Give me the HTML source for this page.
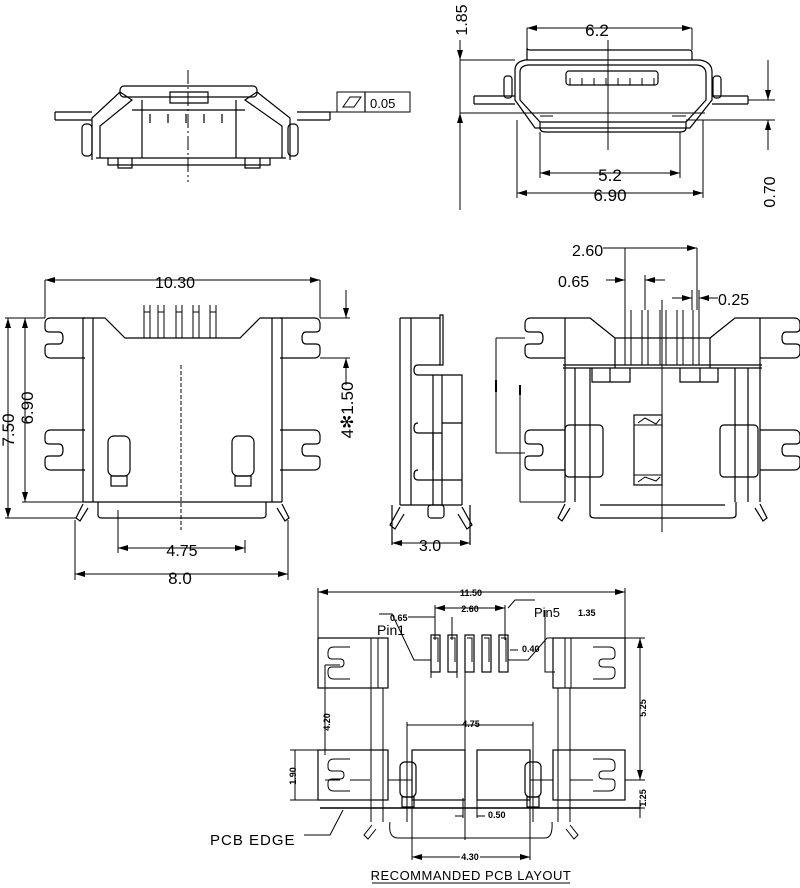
<!DOCTYPE html>
<html><head><meta charset="utf-8"><style>
html,body{margin:0;padding:0;background:#fff}
svg{display:block}
text{font-family:"Liberation Sans",sans-serif;fill:#000}
</style></head><body>
<svg width="800" height="888" viewBox="0 0 800 888" xmlns="http://www.w3.org/2000/svg">
<defs>
<path id="tab" d="M40 0 H6 Q0 0 0 6 V10 Q0 14 4 14 H14 Q18 14 18 20 Q18 26 14 26 H4 Q0 26 0 30 V34 Q0 40 6 40 H40" fill="none" stroke="#000" stroke-width="1.2"/>
<path id="notch" d="M22 0 H6 Q0 0 0 6 V8 Q0 12 4 12 H12 Q16 12 16 16 Q16 20 12 20 H4 Q0 20 0 24 V26 Q0 32 6 32 H22" fill="none" stroke="#000" stroke-width="1"/>
<marker id="ar" viewBox="0 0 10 6" refX="10" refY="3" markerWidth="10" markerHeight="6" orient="auto-start-reverse"><path d="M0 0 L10 3 L0 6z" fill="#000"/></marker>
</defs>
<g fill="none" stroke="#000" stroke-width="1.2">
<!-- ===== Top-left front view ===== -->
<rect x="120" y="86" width="137" height="11" rx="4"/>
<path d="M55 112 H92 M55 120 H92 M55 112 V120 M297 112 H330 M297 120 H330 M330 112 V120"/>
<path d="M92 160 V118 L120 92 L132 100 L100 126 V158 M290 160 V118 L257 92 L245 100 L282 126 V158"/>
<path d="M96 158 H286 M108 158 V165 H270 V158 M118 158 V168 H132 V158 M245 158 V168 H260 V158"/>
<rect x="82" y="124" width="10" height="32" rx="4"/><rect x="288" y="124" width="10" height="32" rx="4"/>
<path d="M132 110 H245 M142 100 V158 M236 100 V158 M170 92 H208 V103 H170Z"/>
<path d="M150 114 V123 M168 114 V123 M186 114 V123 M204 114 V123 M222 114 V123"/>
<path d="M188 70 V182" stroke-dasharray="14 3 2 3" stroke-width="1"/>
<path d="M297 112 H338" stroke-width="1"/>
<rect x="337" y="92" width="73" height="20" stroke-width="1"/><path d="M365 92 V112"/>
<path d="M343 107 L350 97 H361 L354 107Z" stroke-width="1"/>
<!-- ===== Top-right view ===== -->
<path d="M527 60 V48 Q527 50 530 50 H689 Q692 50 692 53 V60"/>
<path d="M515 100 V70 Q515 62 525 60 H700 Q712 62 712 72 V100 L690 128 H535Z"/>
<path d="M520 100 V72 Q520 66 528 65 H697 Q706 66 706 74 V100 L686 122 H540Z"/>
<path d="M540 122 V128 Q540 132 546 132 H680 Q686 132 686 128 V122"/>
<path d="M474 96 H515 M474 104 H515 M474 96 V104 M712 96 H748 M712 104 H748 M748 96 V104"/>
<rect x="504" y="76" width="8" height="22" rx="3"/><rect x="713" y="76" width="8" height="22" rx="3"/>
<rect x="566" y="71" width="92" height="14" rx="3"/>
<path d="M570 85 V78 M582 85 V78 M594 85 V78 M606 85 V78 M618 85 V78 M630 85 V78 M642 85 V78 M654 85 V78" stroke-width="1"/>
<path d="M608 40 V150" stroke-width="1"/>
<path d="M540 116 H553 M672 116 H686" stroke-width="1"/>
<path d="M527 28 H692" marker-start="url(#ar)" marker-end="url(#ar)" stroke-width="1"/>
<path d="M527 28 V50 M692 28 V50 M540 132 V178 M680 132 V178 M517 120 V198 M703 120 V198" stroke-width="1"/>
<path d="M540 173 H680" marker-start="url(#ar)" marker-end="url(#ar)" stroke-width="1"/>
<path d="M517 193 H703" marker-start="url(#ar)" marker-end="url(#ar)" stroke-width="1"/>
<path d="M460 60 V210 M460 60 H515 M460 113 H705" stroke-width="1"/>
<path d="M460 40 V60" marker-end="url(#ar)" stroke-width="1"/><path d="M460 140 V113" marker-end="url(#ar)" stroke-width="1"/>
<path d="M748 100 H775 M686 120 H775" stroke-width="1"/>
<path d="M768 60 V100" marker-end="url(#ar)" stroke-width="1"/><path d="M768 150 V120" marker-end="url(#ar)" stroke-width="1"/>
<!-- ===== Middle-left view ===== -->
<use href="#tab" x="45" y="318"/><use href="#tab" x="45" y="430"/>
<use href="#tab" transform="translate(320,318) scale(-1,1)"/><use href="#tab" transform="translate(320,430) scale(-1,1)"/>
<path d="M83 318 V502 M93 318 V502 M272 318 V502 M282 318 V502"/>
<path d="M83 318 H105 L125 338 H240 L260 318 H282"/>
<path d="M83 502 H282"/>
<path d="M98 502 V515 Q98 518 102 518 H262 Q266 518 266 515 V502"/>
<path d="M83 504 L76 518 L80 521 L88 508 M282 504 L289 518 L285 521 L277 508"/>
<path d="M144 305 V338 M150 305 V338 M144 312 H150 M158 305 V338 M164 305 V338 M158 312 H164 M176 305 V338 M182 305 V338 M176 312 H182 M193 305 V338 M199 305 V338 M193 312 H199 M210 305 V338 M216 305 V338 M210 312 H216" stroke-width="1"/>
<rect x="108" y="436" width="22" height="40" rx="6"/><rect x="111" y="476" width="16" height="10"/>
<rect x="232" y="436" width="22" height="40" rx="6"/><rect x="235" y="476" width="16" height="10"/>
<path d="M181 365 V530" stroke-dasharray="4 2" stroke-width="1"/>
<path d="M45 280 H320" marker-start="url(#ar)" marker-end="url(#ar)" stroke-width="1"/>
<path d="M45 280 V318 M320 280 V318" stroke-width="1"/>
<path d="M8 318 V518" marker-start="url(#ar)" marker-end="url(#ar)" stroke-width="1"/>
<path d="M25 318 V502" marker-start="url(#ar)" marker-end="url(#ar)" stroke-width="1"/>
<path d="M5 318 H45 M22 502 H83 M5 518 H76" stroke-width="1"/>
<path d="M118 510 V553 M245 540 V553" stroke-width="1" />
<path d="M118 548 H245" marker-start="url(#ar)" marker-end="url(#ar)" stroke-width="1"/>
<path d="M75 520 V580 M288 520 V580" stroke-width="1"/>
<path d="M75 574 H288" marker-start="url(#ar)" marker-end="url(#ar)" stroke-width="1"/>
<path d="M320 318 H350 M320 358 H350" stroke-width="1"/>
<path d="M346 290 V318" marker-end="url(#ar)" stroke-width="1"/><path d="M346 385 V358" marker-end="url(#ar)" stroke-width="1"/>
<!-- ===== Side view ===== -->
<path d="M400 318 H440 V315 H443 V365 H440 V318 M400 318 V505 M411 318 V505"/>
<path d="M440 365 H418 Q414 365 414 370 Q414 375 418 375 H462 V505 M433 375 V505 M442 375 V505"/>
<path d="M418 423 Q414 423 414 428 Q414 433 418 433 H442 M442 423 H462 M418 470 Q414 470 414 475 Q414 480 418 480 H462 M433 433 V470"/>
<path d="M400 505 H462 M392 505 V545 M470 505 V545 M400 507 L390 525 L395 529 L404 514 M462 507 L472 525 L467 529 L458 514"/>
<rect x="428" y="505" width="16" height="13" rx="3"/>
<path d="M392 543 H470" marker-start="url(#ar)" marker-end="url(#ar)" stroke-width="1"/>
<!-- ===== Middle-right view ===== -->
<use href="#tab" x="525" y="318"/><use href="#tab" x="525" y="430"/>
<use href="#tab" transform="translate(800,318) scale(-1,1)"/><use href="#tab" transform="translate(800,430) scale(-1,1)"/>
<path d="M565 318 H590 L615 338 H710 L735 318 H760"/>
<path d="M565 318 V502 M760 318 V502 M563 365 H762 M563 368 H762 M575 368 V502 M590 368 V502 M735 368 V502 M748 368 V502"/>
<path d="M615 338 V368 M710 338 V368"/>
<path d="M592 368 V382 H630 V368 M610 368 V382 M680 368 V382 H718 V368 M700 368 V382"/>
<rect x="565" y="425" width="38" height="52" rx="4"/><rect x="720" y="425" width="38" height="52" rx="4"/>
<rect x="634" y="415" width="28" height="70"/>
<path d="M634 425 H662 M634 475 H662 M638 423 L645 418 L656 424 L660 419 M638 482 L645 477 L656 481 L660 477" stroke-width="1"/>
<path d="M590 502 V515 Q590 518 596 518 H730 Q736 518 736 515 V502 M600 505 H725"/>
<path d="M565 504 L558 518 L562 521 L570 508 M760 504 L767 518 L763 521 L755 508"/>
<path d="M625 310 V365 M631 310 V365 M642 310 V365 M648 310 V365 M660 310 V365 M666 310 V365 M677 310 V365 M683 310 V365 M693 310 V365 M699 310 V365" stroke-width="1"/>
<path d="M662 300 V532" stroke-width="1"/>
<path d="M496 338 H525 M496 338 V453 H525 M520 385 V502 M520 502 H565" stroke-width="1"/>
<path d="M496 380 V392 M520 385 V395" stroke-width="2"/>
<path d="M625 248 V310 M697 248 V310 M645 275 V310 M692 290 V310 M699 290 V310" stroke-width="1"/>
<path d="M603 248 H625 M625 248 H697" stroke-width="1"/><path d="M697 248 H630" marker-start="url(#ar)" stroke-width="1"/>
<path d="M606 280 H625" marker-end="url(#ar)" stroke-width="1"/><path d="M665 280 H645" marker-end="url(#ar)" stroke-width="1"/>
<path d="M672 298 H692" marker-end="url(#ar)" stroke-width="1"/><path d="M718 298 H699" marker-end="url(#ar)" stroke-width="1"/>
<!-- ===== Bottom PCB layout ===== -->
<path d="M318 592 H625" marker-start="url(#ar)" marker-end="url(#ar)" stroke-width="1"/>
<path d="M318 588 V638 M625 588 V638 M435 605 V640 M505 605 V640" stroke-width="1"/>
<path d="M435 608 H505" marker-start="url(#ar)" marker-end="url(#ar)" stroke-width="1"/>
<path d="M408 617 H435 M452 617 V640" stroke-width="1"/>
<rect x="318" y="638" width="70" height="50"/><rect x="553" y="638" width="72" height="50"/>
<rect x="318" y="750" width="70" height="50"/><rect x="553" y="750" width="72" height="50"/>
<path d="M371 638 V688 M378 638 V688 M371 688 V822 M383 688 V822 M571 638 V688 M565 638 V688 M558 688 V822 M570 688 V822" stroke-width="1"/>
<use href="#notch" x="328" y="647"/><use href="#notch" x="328" y="759"/>
<use href="#notch" transform="translate(615,647) scale(-1,1)"/><use href="#notch" transform="translate(615,759) scale(-1,1)"/>
<rect x="431" y="635" width="9" height="37"/><rect x="448" y="635" width="9" height="37"/><rect x="465" y="635" width="9" height="37"/><rect x="482" y="635" width="9" height="37"/><rect x="499" y="635" width="9" height="37"/>
<path d="M433 638 H438 V662 M450 638 H455 V662 M467 638 H472 V662 M484 638 H489 V662 M501 638 H506 V662 M431 635 V678 M457 635 V678" stroke-width="1"/>
<path d="M379 614 L392 614 L414 660 H431 M508 660 H528 L547 638 H625" stroke-width="1"/>
<path d="M508 608 L515 600 H535 M545 610 V672 H555" stroke-width="1"/>
<path d="M510 650 H518" stroke-width="1"/>
<path d="M325 665 V755 M340 665 H325 M340 780 H325" stroke-width="1"/>
<path d="M625 638 H645 M625 780 H645" stroke-width="1"/>
<path d="M640 638 V780" marker-start="url(#ar)" marker-end="url(#ar)" stroke-width="1"/>
<path d="M290 750 H318 M290 800 H318 M295 750 V800" stroke-width="1"/>
<path d="M640 800 V818 M625 808 H645" stroke-width="1"/>
<rect x="412" y="750" width="53" height="50"/><rect x="477" y="750" width="53" height="50"/>
<path d="M407 722 V822 M533 722 V822 M407 725 H533" stroke-width="1"/>
<rect x="400" y="762" width="16" height="35" rx="5"/><rect x="402" y="797" width="12" height="10"/>
<rect x="525" y="762" width="16" height="35" rx="5"/><rect x="527" y="797" width="12" height="10"/>
<path d="M412 780 H388 M350 780 H370 M530 780 H553 M570 780 H593" stroke-width="1"/>
<path d="M465 660 V840 M463 798 V818 M477 798 V818 M455 816 H463 M477 816 H485" stroke-width="1"/>
<path d="M320 808 H640" stroke-width="1.4"/>
<path d="M390 822 Q388 838 398 838 H545 Q553 838 552 822" stroke-width="1"/>
<path d="M372 825 L364 835 L368 839 L376 829 M570 825 L578 835 L574 839 L566 829" stroke-width="1"/>
<path d="M412 800 V860 M530 800 V860" stroke-width="1"/>
<path d="M412 857 H530" marker-start="url(#ar)" marker-end="url(#ar)" stroke-width="1"/>
<path d="M304 835 H330 L343 810" stroke-width="1"/>
<path d="M372 883 H570" stroke-width="1"/>
</g>
<!-- labels -->
<g font-size="15">
<text x="370" y="108" font-size="13">0.05</text>
<text x="597" y="36" text-anchor="middle" font-size="17">6.2</text>
<text x="610" y="181" text-anchor="middle" font-size="17">5.2</text>
<text x="610" y="201" text-anchor="middle" font-size="17">6.90</text>
<text transform="translate(467,20) rotate(-90)" text-anchor="middle" font-size="16">1.85</text>
<text transform="translate(775,192) rotate(-90)" text-anchor="middle" font-size="16">0.70</text>
<text x="175" y="288" text-anchor="middle" font-size="16">10.30</text>
<text transform="translate(14,430) rotate(-90)" text-anchor="middle" font-size="17">7.50</text>
<text transform="translate(33,408) rotate(-90)" text-anchor="middle" font-size="17">6.90</text>
<text transform="translate(353,410) rotate(-90)" text-anchor="middle" font-size="17">4✻1.50</text>
<text x="182" y="556" text-anchor="middle" font-size="16">4.75</text>
<text x="180" y="584" text-anchor="middle" font-size="17">8.0</text>
<text x="430" y="551" text-anchor="middle" font-size="16">3.0</text>
<text x="572" y="256" font-size="16">2.60</text>
<text x="558" y="287" font-size="16">0.65</text>
<text x="718" y="305" font-size="16">0.25</text>
<text x="471" y="596" text-anchor="middle" font-size="9" font-weight="bold">11.50</text>
<text x="470" y="612" text-anchor="middle" font-size="9" font-weight="bold">2.60</text>
<text x="390" y="621" font-size="9" font-weight="bold">0.65</text>
<text x="377" y="635" font-size="14">Pin1</text>
<text x="534" y="617" font-size="13">Pin5</text>
<text x="578" y="616" font-size="9" font-weight="bold">1.35</text>
<text x="522" y="652" font-size="9" font-weight="bold">0.40</text>
<text x="471" y="727" text-anchor="middle" font-size="9" font-weight="bold">4.75</text>
<text x="488" y="818" font-size="9" font-weight="bold">0.50</text>
<text x="470" y="860" text-anchor="middle" font-size="9" font-weight="bold" stroke="#fff" stroke-width="3" paint-order="stroke">4.30</text>
<text transform="translate(330,722) rotate(-90)" text-anchor="middle" font-size="9" font-weight="bold">4.20</text>
<text transform="translate(296,776) rotate(-90)" text-anchor="middle" font-size="9" font-weight="bold">1.90</text>
<text transform="translate(646,708) rotate(-90)" text-anchor="middle" font-size="9" font-weight="bold">5.25</text>
<text transform="translate(646,798) rotate(-90)" text-anchor="middle" font-size="9" font-weight="bold">1.25</text>
<text x="210" y="845" font-size="15" letter-spacing="1">PCB EDGE</text>
<text x="471" y="880" text-anchor="middle" font-size="13" letter-spacing="0.5">RECOMMANDED PCB LAYOUT</text>
</g>
</svg>
</body></html>
